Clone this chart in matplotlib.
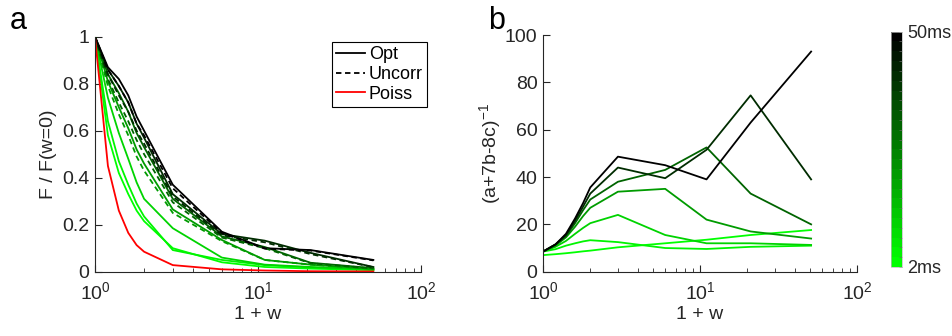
import numpy as np
import matplotlib
matplotlib.use('Agg')
import matplotlib.pyplot as plt
from matplotlib.colors import LinearSegmentedColormap, Normalize
from matplotlib.colorbar import ColorbarBase
from matplotlib.lines import Line2D

plt.rcParams['font.family'] = ['Liberation Sans', 'DejaVu Sans']
plt.rcParams['mathtext.fontset'] = 'custom'
plt.rcParams['mathtext.rm'] = 'Liberation Sans'
plt.rcParams['mathtext.it'] = 'Liberation Sans:italic'
plt.rcParams['font.size'] = 14

# time windows (ms) for each curve, light to dark
windows = [2, 5, 10, 20, 30, 40, 50]

# panel a: x = 1 + w
x_a = [1, 1.2, 1.4, 1.6, 1.8, 2, 3, 6, 11, 21, 51]
opt_a = [
    [1, 0.58, 0.42, 0.33, 0.26, 0.215, 0.100, 0.040, 0.020, 0.013, 0.007],
    [1, 0.64, 0.47, 0.37, 0.29, 0.235, 0.092, 0.050, 0.028, 0.018, 0.008],
    [1, 0.74, 0.59, 0.48, 0.38, 0.310, 0.185, 0.060, 0.030, 0.020, 0.010],
    [1, 0.81, 0.70, 0.61, 0.52, 0.460, 0.265, 0.135, 0.050, 0.030, 0.012],
    [1, 0.84, 0.76, 0.68, 0.59, 0.530, 0.310, 0.150, 0.105, 0.038, 0.015],
    [1, 0.86, 0.79, 0.72, 0.63, 0.570, 0.330, 0.160, 0.132, 0.080, 0.020],
    [1, 0.87, 0.82, 0.75, 0.66, 0.600, 0.370, 0.170, 0.100, 0.092, 0.050],
]
# uncorrelated decoder, only drawn for the longer windows
uncorr_idx = [3, 4, 5, 6]
uncorr_a = [
    [1, 0.79, 0.67, 0.58, 0.49, 0.430, 0.250, 0.130, 0.050, 0.030, 0.012],
    [1, 0.82, 0.72, 0.64, 0.56, 0.500, 0.295, 0.145, 0.100, 0.036, 0.014],
    [1, 0.84, 0.75, 0.68, 0.60, 0.545, 0.320, 0.155, 0.125, 0.075, 0.019],
    [1, 0.86, 0.79, 0.72, 0.63, 0.580, 0.355, 0.165, 0.098, 0.090, 0.048],
]
poiss_a = [1, 0.45, 0.26, 0.165, 0.113, 0.085, 0.028, 0.010, 0.005, 0.002, 0.001]

# panel b
x_b = [1, 1.2, 1.4, 1.6, 1.8, 2, 3, 6, 11, 21, 51]
curves_b = [
    [7.0, 7.4, 7.8, 8.2, 8.6, 8.9, 10.3, 12.0, 13.5, 15.5, 17.6],
    [8.5, 9.5, 11.0, 12.0, 12.8, 13.3, 12.5, 10.0, 9.6, 10.5, 11.0],
    [8.5, 10.5, 13.0, 16.0, 18.5, 20.5, 24.0, 15.5, 12.0, 12.0, 11.3],
    [8.5, 11.0, 14.5, 19.0, 23.5, 27.0, 33.8, 35.0, 22.0, 17.0, 14.0],
    [8.5, 11.5, 15.0, 20.5, 26.0, 30.5, 38.0, 43.0, 52.5, 33.0, 20.0],
    [8.5, 11.5, 15.5, 21.5, 27.5, 33.0, 44.0, 39.5, 51.5, 74.5, 39.0],
    [8.5, 11.5, 16.0, 22.5, 29.0, 35.6, 48.6, 45.0, 39.0, 63.0, 93.0],
]

axis_col = '#262626'
cmap = LinearSegmentedColormap.from_list('greenblack', [(0, 1, 0), (0, 0, 0)], N=24)
norm = Normalize(vmin=2, vmax=50)


def style_axis(ax):
    for side in ['top', 'right']:
        ax.spines[side].set_visible(False)
    for side in ['left', 'bottom']:
        ax.spines[side].set_color(axis_col)
        ax.spines[side].set_linewidth(0.8)
    ax.tick_params(which='both', direction='in', colors=axis_col, labelcolor=axis_col)
    ax.tick_params(which='major', length=5)
    ax.tick_params(which='minor', length=3)
    ax.tick_params(axis='x', which='major', pad=7)
    ax.tick_params(axis='y', which='major', pad=4)


fig = plt.figure(figsize=(9.53, 3.36), dpi=100)

# panel a
ax1 = fig.add_axes([0.0997, 0.1914, 0.3421, 0.6994])
for i, y in enumerate(opt_a):
    ax1.plot(x_a, y, color=cmap(norm(windows[i])), lw=1.3)
for j, i in enumerate(uncorr_idx):
    ax1.plot(x_a, uncorr_a[j], color=cmap(norm(windows[i])), lw=1.3, ls='--', dashes=(3, 2))
ax1.plot(x_a, poiss_a, color='#ff0000', lw=1.3)
ax1.set_xscale('log')
ax1.set_xlim(1, 100)
ax1.set_ylim(0, 1)
ax1.set_yticks([0, 0.2, 0.4, 0.6, 0.8, 1])
ax1.set_yticklabels(['0', '0.2', '0.4', '0.6', '0.8', '1'])
ax1.set_xlabel('1 + w', color=axis_col, labelpad=2)
ax1.set_ylabel('F / F(w=0)', color=axis_col, labelpad=4)
style_axis(ax1)
handles = [Line2D([], [], color='k', lw=1.3),
           Line2D([], [], color='k', lw=1.3, ls='--', dashes=(3, 2)),
           Line2D([], [], color='#ff0000', lw=1.3)]
leg = ax1.legend(handles, ['Opt', 'Uncorr', 'Poiss'], loc='upper left',
                 bbox_to_anchor=(0.726, 0.979), fancybox=False, framealpha=1,
                 edgecolor='k', handlelength=1.6, handletextpad=0.2,
                 borderpad=0.25, labelspacing=0.15, borderaxespad=0, fontsize=13)
leg.get_frame().set_linewidth(0.8)
fig.text(0.010, 0.915, 'a', fontsize=22, color='k')

# panel b
ax2 = fig.add_axes([0.5698, 0.1914, 0.3295, 0.7044])
for i, y in enumerate(curves_b):
    ax2.plot(x_b, y, color=cmap(norm(windows[i])), lw=1.3)
ax2.set_xscale('log')
ax2.set_xlim(1, 100)
ax2.set_ylim(0, 100)
ax2.set_yticks([0, 20, 40, 60, 80, 100])
ax2.set_xlabel('1 + w', color=axis_col, labelpad=2)
ax2.set_ylabel('(a+7b-8c)$^{-1}$', color=axis_col, labelpad=1)
style_axis(ax2)
fig.text(0.512, 0.915, 'b', fontsize=22, color='k')

# colour bar for the window length
cax = fig.add_axes([0.9346, 0.2054, 0.0122, 0.7003])
cb = ColorbarBase(cax, cmap=cmap, norm=norm, orientation='vertical')
cb.set_ticks(list(range(2, 51, 2)))
cb.set_ticklabels(['2ms'] + [''] * 23 + ['50ms'])
cb.outline.set_linewidth(0.5)
cb.outline.set_edgecolor('#bbbbbb')
cax.tick_params(direction='in', length=2, width=0.5, colors='#666666',
                labelcolor=axis_col, labelsize=13)

fig.savefig('out.png', dpi=100)
